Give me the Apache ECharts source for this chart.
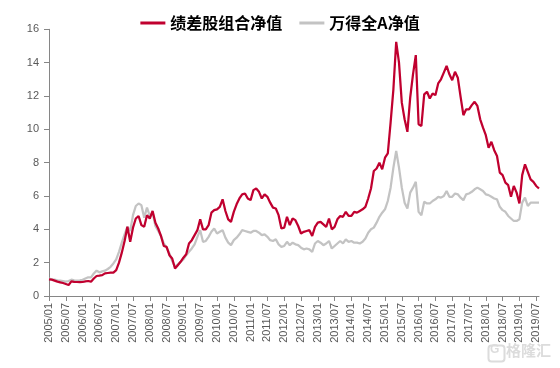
<!DOCTYPE html>
<html><head><meta charset="utf-8">
<script src="https://cdn.jsdelivr.net/npm/echarts@6/dist/echarts.min.js"></script>
<style>html,body{margin:0;padding:0;background:#fff}#c{width:560px;height:368px}</style>
</head><body><div id="c"></div>
<script>
var startYear = 2005, startMonth = 1, pointCount = 176;
var categories = [];
for (var k = 0; k < pointCount; k++) {
  var m = startMonth - 1 + k;
  var yy = startYear + Math.floor(m / 12), mm = (m % 12) + 1;
  categories.push(yy + '/' + (mm < 10 ? '0' + mm : mm));
}
var seriesNames = ['绩差股组合净值', '万得全A净值'];
var poorStocks = [
1.0,0.98,0.92,0.86,0.82,0.78,0.72,0.66,0.88,0.85,0.84,0.83,0.84,0.88,0.9,0.86,1.05,1.2,1.22,1.25,
1.36,1.38,1.4,1.4,1.55,2.0,2.6,3.3,4.15,3.25,4.1,4.65,4.8,4.25,4.15,4.85,4.65,5.1,4.4,4.05,
3.6,3.0,2.95,2.45,2.25,1.65,1.85,2.05,2.3,2.5,3.15,3.35,3.65,3.95,4.6,4.0,4.0,4.25,5.0,5.15,
5.2,5.35,5.8,5.1,4.6,4.45,5.05,5.5,5.85,6.1,6.15,5.85,5.75,6.35,6.45,6.25,5.85,6.1,5.95,5.6,
5.3,5.25,4.85,4.05,4.1,4.75,4.25,4.65,4.55,4.2,3.75,3.85,3.9,3.95,3.6,4.15,4.4,4.45,4.3,4.15,
4.65,4.0,4.15,4.6,4.8,4.75,5.05,4.8,4.8,5.05,5.0,5.1,5.2,5.35,5.85,6.45,7.5,7.65,8.0,7.6,
8.3,8.55,10.4,12.4,15.25,14.0,11.6,10.6,9.85,11.9,13.3,14.45,10.3,10.2,12.1,12.25,11.85,12.15,12.05,12.75,
13.0,13.4,13.8,13.3,12.95,13.45,13.1,11.95,10.85,11.2,11.2,11.45,11.65,11.4,10.6,10.1,9.65,8.9,9.25,8.75,
8.4,7.4,7.25,6.8,6.65,5.95,6.6,6.2,5.55,7.25,7.9,7.45,7.0,6.85,6.6,6.45
];
var windA = [
1.05,1.0,0.98,0.94,0.92,0.9,0.86,0.9,0.98,0.94,0.92,0.94,0.97,1.05,1.12,1.12,1.35,1.52,1.42,1.48,
1.52,1.62,1.75,1.95,2.2,2.65,3.2,3.7,4.15,3.9,4.85,5.4,5.55,5.45,4.7,5.3,4.8,5.0,4.2,3.9,
3.6,3.15,2.9,2.55,2.1,1.75,1.9,2.05,2.2,2.45,2.65,2.85,3.1,3.55,3.95,3.25,3.3,3.55,3.85,4.05,
3.75,3.85,3.95,3.5,3.2,3.05,3.35,3.5,3.7,3.95,3.9,3.85,3.8,3.9,3.9,3.8,3.65,3.7,3.55,3.35,
3.3,3.4,3.1,2.95,3.0,3.25,3.05,3.2,3.1,3.05,2.9,2.8,2.85,2.8,2.65,3.15,3.3,3.2,3.05,3.15,
3.3,2.85,3.0,3.15,3.3,3.15,3.4,3.25,3.3,3.2,3.2,3.15,3.25,3.45,3.8,4.0,4.1,4.4,4.75,5.0,
5.2,5.7,6.5,7.7,8.7,7.7,6.5,5.6,5.25,6.2,6.5,6.85,5.05,4.85,5.65,5.55,5.55,5.7,5.8,5.95,
5.9,6.0,6.3,5.95,5.95,6.15,6.1,5.9,5.75,6.1,6.15,6.25,6.4,6.5,6.4,6.3,6.1,6.05,5.95,5.85,
5.8,5.35,5.15,5.05,4.8,4.65,4.5,4.5,4.6,5.6,5.9,5.4,5.6,5.6,5.6,5.6
];
var yMin = 0, yMax = 16, yStep = 2;

var chart = echarts.init(document.getElementById('c'), null, {renderer: 'canvas'});
var axisColor = '#868686';
var labelColor = '#595959';
chart.setOption({
  animation: false,
  backgroundColor: '#ffffff',
  legend: {
    top: 10, left: 'center',
    itemWidth: 25, itemHeight: 3, itemGap: 17,
    icon: 'rect',
    textStyle: {fontFamily: '"Noto Sans CJK SC", sans-serif', fontWeight: 'bold', fontSize: 16, color: '#000'},
    data: seriesNames
  },
  grid: {left: 49, right: 21, top: 29.3, bottom: 72, containLabel: false},
  xAxis: {
    type: 'category', data: categories, boundaryGap: false,
    axisLine: {lineStyle: {color: axisColor, width: 1}},
    axisTick: {show: true, interval: 5, length: 5, lineStyle: {color: axisColor}},
    axisLabel: {interval: 5, rotate: 90, margin: 7, color: labelColor, fontSize: 11, fontFamily: '"Liberation Sans", Arial, sans-serif'},
    splitLine: {show: false}
  },
  yAxis: {
    type: 'value', min: yMin, max: yMax, interval: yStep,
    axisLine: {show: true, lineStyle: {color: axisColor, width: 1}},
    axisTick: {show: true, length: 5, lineStyle: {color: axisColor}},
    axisLabel: {margin: 10, color: labelColor, fontSize: 11, fontFamily: '"Liberation Sans", Arial, sans-serif'},
    splitLine: {show: false}
  },
  series: [
    {name: seriesNames[0], type: 'line', data: poorStocks, showSymbol: false, symbol: 'none', z: 3,
     lineStyle: {color: '#C0002F', width: 2.25}, itemStyle: {color: '#C0002F'}},
    {name: seriesNames[1], type: 'line', data: windA, showSymbol: false, symbol: 'none', z: 2,
     lineStyle: {color: '#C3C3C3', width: 2.25}, itemStyle: {color: '#C3C3C3'}}
  ],
  graphic: [
    {type: 'rect', left: 486, top: 343, shape: {width: 16, height: 16, r: 3}, style: {fill: 'none', stroke: '#dcdcdc', lineWidth: 2}, silent: true},
    {type: 'text', left: 490, top: 344, style: {text: 'G', fill: '#dcdcdc', font: 'bold 12px "Liberation Sans", sans-serif'}, silent: true},
    {type: 'text', left: 506, top: 343, style: {text: '格隆汇', fill: '#dcdcdc', font: 'bold 15px "Noto Sans CJK SC", sans-serif'}, silent: true}
  ]
});
</script></body></html>
